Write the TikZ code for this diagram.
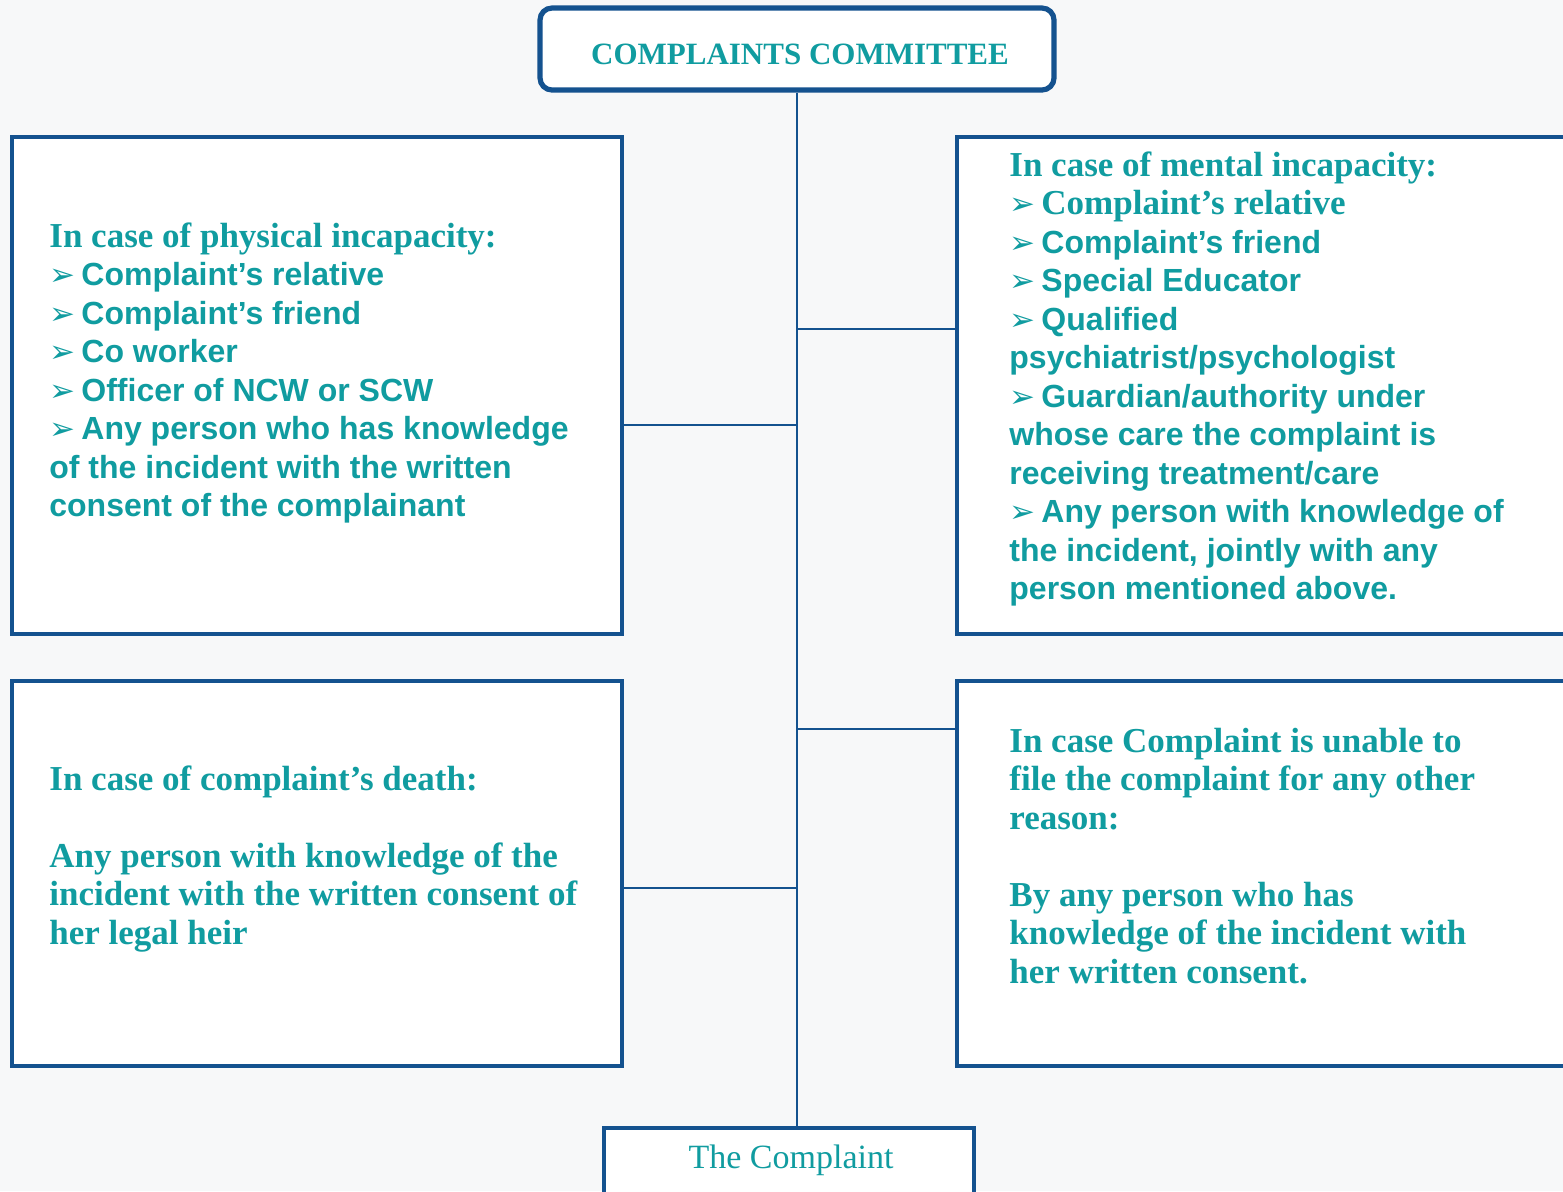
\documentclass[tikz,border=0pt]{standalone}
\usepackage{fontspec}
\setmainfont{Liberation Serif}
\setsansfont{Liberation Sans}
\newfontfamily\arrowfont{DejaVu Sans}
\usetikzlibrary{positioning}

\definecolor{boxblue}{HTML}{14528F}
\definecolor{textteal}{HTML}{109CA0}
\definecolor{pagegray}{HTML}{F7F8F9}

\newcommand{\headfont}{\fontsize{17.5}{19.25}\selectfont\rmfamily\bfseries}
\newcommand{\listfont}{\fontsize{16}{19.25}\selectfont\sffamily\bfseries}
\newcommand{\bul}{\makebox[16pt][l]{\arrowfont\fontsize{15.5}{12}\selectfont\char"27A2}}

\begin{document}
\begin{tikzpicture}[x=0.5pt,y=0.5pt,yscale=-1,
  box/.style={draw=boxblue,line width=2.3pt,fill=white,inner sep=0pt},
  link/.style={draw=boxblue,line width=1.1pt},
  txt/.style={anchor=base west,inner sep=0pt,text=textteal,font=\fontsize{16}{19.25}\selectfont}]

% page
\useasboundingbox (0,0) rectangle (1563,1191);
\fill[pagegray] (0,0) rectangle (1563,1191);
\clip (0,0) rectangle (1563,1191);

% Boxes
\node[box,rounded corners=6pt,minimum width=257pt,minimum height=41pt,line width=2.6pt] (cc) at (797,49) {};
\node[box,minimum width=305pt,minimum height=248.5pt] (phys) at (317,385.5) {};
\node[box,minimum width=311.5pt,minimum height=248.5pt] (ment) at (1268.5,385.5) {};
\node[box,minimum width=305pt,minimum height=192.5pt] (death) at (317,873.5) {};
\node[box,minimum width=311.5pt,minimum height=192.5pt] (other) at (1268.5,873.5) {};
\node[box,minimum width=185pt,minimum height=41pt] (compl) at (789,1169) {};

% Connectors
\coordinate (jphys) at (797,425);
\coordinate (jment) at (797,329);
\coordinate (jdeath) at (797,888);
\coordinate (jother) at (797,729);
\draw[link] (cc.south) -- (cc.south |- compl.north);
\draw[link] (phys.east |- jphys) -- (jphys);
\draw[link] (jment) -- (ment.west |- jment);
\draw[link] (death.east |- jdeath) -- (jdeath);
\draw[link] (jother) -- (other.west |- jother);

% Text Node
\node[text=textteal,inner sep=0pt,font=\fontsize{15.5}{18}\selectfont\bfseries] (cctext) at (800,54) {COMPLAINTS COMMITTEE};
% Text Node
\node[text=textteal,inner sep=0pt,font=\fontsize{17}{20}\selectfont] (compltext) at (791,1160) {The Complaint};
% Text Node
\node[txt] (physt) at (49,247) {\begin{tabular}[t]{@{}l@{}}
  \headfont In case of physical incapacity:\\
  \listfont\bul Complaint’s relative\\
  \listfont\bul Complaint’s friend\\
  \listfont\bul Co worker\\
  \listfont\bul Officer of NCW or SCW\\
  \listfont\bul Any person who has knowledge\\
  \listfont of the incident with the written\\
  \listfont consent of the complainant
\end{tabular}};
% Text Node
\node[txt] (mentt) at (1009,176) {\begin{tabular}[t]{@{}l@{}}
  \headfont In case of mental incapacity:\\
  \headfont\bul Complaint’s relative\\
  \listfont\bul Complaint’s friend\\
  \listfont\bul Special Educator\\
  \listfont\bul Qualified\\
  \listfont psychiatrist/psychologist\\
  \listfont\bul Guardian/authority under\\
  \listfont whose care the complaint is\\
  \listfont receiving treatment/care\\
  \listfont\bul Any person with knowledge of\\
  \listfont the incident, jointly with any\\
  \listfont person mentioned above.
\end{tabular}};
% Text Node
\node[txt] (deatht) at (49,790) {\begin{tabular}[t]{@{}l@{}}
  \headfont In case of complaint’s death:\\
  \\
  \headfont Any person with knowledge of the\\
  \headfont incident with the written consent of\\
  \headfont her legal heir
\end{tabular}};
% Text Node
\node[txt] (othert) at (1009,752) {\begin{tabular}[t]{@{}l@{}}
  \headfont In case Complaint is unable to\\
  \headfont file the complaint for any other\\
  \headfont reason:\\
  \\
  \headfont By any person who has\\
  \headfont knowledge of the incident with\\
  \headfont her written consent.
\end{tabular}};

\end{tikzpicture}
\end{document}
